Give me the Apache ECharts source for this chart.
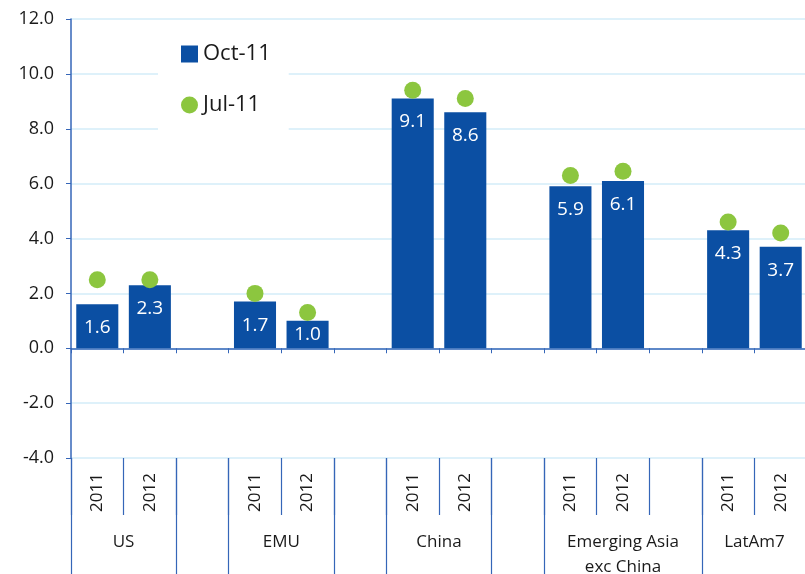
<!DOCTYPE html>
<html>
<head>
<meta charset="utf-8">
<script src="https://cdn.jsdelivr.net/npm/echarts@6/dist/echarts.min.js"></script>
<style>
html,body{margin:0;padding:0;background:#fff;}
#chart{width:805px;height:574px;}
</style>
</head>
<body>
<div id="chart"></div>
<script>
var years = ['2011','2012','','2011','2012','','2011','2012','','2011','2012','','2011','2012'];
var groupLabels = ['', '', 'US', '', '', '', '', '', 'EMU', '', '', '', '', '', 'China', '', '', '', '', '', '', 'Emerging Asia\nexc China', '', '', '', '', 'LatAm7', '', ''];
var longSeparatorIdx = [0, 4, 6, 10, 12, 16, 18, 24];
var oct11 = [1.6, 2.3, null, 1.7, 1.0, null, 9.1, 8.6, null, 5.9, 6.1, null, 4.3, 3.7];
var jul11 = [2.5, 2.5, null, 2.0, 1.3, null, 9.4, 9.1, null, 6.3, 6.45, null, 4.6, 4.2];
var yTicks = [-4, -2, 0, 2, 4, 6, 8, 10, 12];

var FONT = '"Open Sans", "DejaVu Sans", sans-serif';
var BLUE = '#0b4fa3';
var GREEN = '#8cc63f';
var LINE = '#3566b8';
var GRID = '#d3ecf8';

var barData = oct11.map(function (v) {
  if (v == null) return null;
  if (v < 1.5) return {value: v, label: {position: 'inside'}};
  return v;
});

var chart = echarts.init(document.getElementById('chart'), null, {renderer: 'canvas'});
chart.setOption({
  animation: false,
  backgroundColor: '#ffffff',
  grid: {left: 71, top: 19, width: 736, height: 439, containLabel: false, outerBoundsMode: 'none'},
  legend: {
    orient: 'vertical',
    left: 158,
    top: 29,
    padding: [14, 18, 14, 23],
    itemGap: 29,
    itemWidth: 17,
    itemHeight: 17,
    backgroundColor: '#ffffff',
    textStyle: {fontFamily: FONT, fontSize: 22, color: '#1a1a1a'},
    data: [
      {name: 'Oct-11', icon: 'rect'},
      {name: 'Jul-11', icon: 'circle'}
    ]
  },
  xAxis: [
    {
      type: 'category',
      data: years,
      position: 'bottom',
      axisLine: {onZero: true, lineStyle: {color: LINE, width: 1.5}},
      axisTick: {show: true, interval: 0, length: 5, lineStyle: {color: LINE}},
      axisLabel: {show: false},
      splitLine: {show: false}
    },
    {
      type: 'category',
      data: years,
      position: 'bottom',
      axisLine: {show: false, onZero: false},
      axisTick: {show: true, interval: 0, length: 57, lineStyle: {color: LINE, width: 1.2}},
      axisLabel: {
        interval: 0, rotate: 90, margin: 15,
        fontFamily: FONT, fontSize: 17, color: '#1a1a1a'
      },
      splitLine: {show: false}
    },
    {
      type: 'category',
      data: groupLabels,
      boundaryGap: false,
      position: 'bottom',
      axisLine: {show: false, onZero: false},
      axisTick: {
        show: true, length: 116,
        interval: function (idx) { return longSeparatorIdx.indexOf(idx) >= 0; },
        lineStyle: {color: LINE, width: 1.2}
      },
      axisLabel: {
        interval: 0, margin: 72, lineHeight: 25,
        fontFamily: FONT, fontSize: 17, color: '#1a1a1a', align: 'center'
      },
      splitLine: {show: false}
    }
  ],
  yAxis: {
    type: 'value',
    min: -4, max: 12, interval: 2,
    axisLine: {show: true, lineStyle: {color: LINE, width: 1.5}},
    axisTick: {show: true, length: 5, lineStyle: {color: LINE}},
    axisLabel: {
      margin: 17,
      fontFamily: FONT, fontSize: 18, color: '#1a1a1a',
      formatter: function (v) { return yTicks.indexOf(v) >= 0 ? v.toFixed(1) : ''; }
    },
    splitLine: {show: true, lineStyle: {color: GRID, width: 1.5}}
  },
  series: [
    {
      name: 'Oct-11',
      type: 'bar',
      xAxisIndex: 0,
      data: barData,
      barCategoryGap: '20%',
      itemStyle: {color: BLUE},
      label: {
        show: true, position: 'insideTop', distance: 14,
        color: '#ffffff', fontFamily: FONT, fontSize: 19,
        formatter: function (p) { return p.value == null ? '' : Number(p.value).toFixed(1); }
      },
      z: 2
    },
    {
      name: 'Jul-11',
      type: 'scatter',
      xAxisIndex: 0,
      data: jul11,
      symbol: 'circle',
      symbolSize: 17,
      itemStyle: {color: GREEN, opacity: 1},
      z: 3
    }
  ]
});
</script>
</body>
</html>
